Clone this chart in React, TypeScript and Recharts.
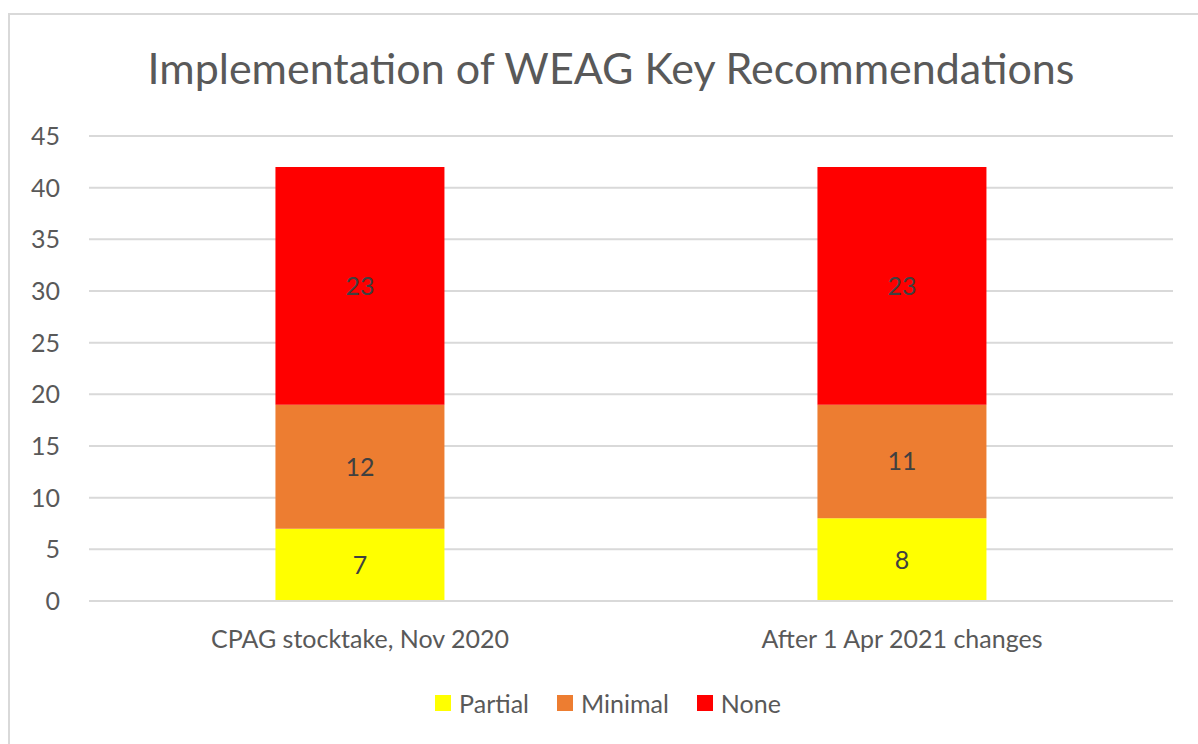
import { Bar, BarChart, CartesianGrid, LabelList, XAxis, YAxis } from "recharts"

const categories = ["CPAG stocktake, Nov 2020", "After 1 Apr 2021 changes"]
const partial = [7, 8]
const minimal = [12, 11]
const none = [23, 23]
const yTicks = [0, 5, 10, 15, 20, 25, 30, 35, 40, 45]

const series = [
  { key: "partial", name: "Partial", color: "#ffff00" },
  { key: "minimal", name: "Minimal", color: "#ed7d31" },
  { key: "none", name: "None", color: "#ff0000" },
]

const data = categories.map((name, i) => ({
  name,
  partial: partial[i],
  minimal: minimal[i],
  none: none[i],
}))

const font = "Lato, 'Open Sans', sans-serif"
const textColor = "#595959"

export default function App() {
  return (
    <div style={{ position: "absolute", left: 0, top: 0, width: 1198, height: 744, overflow: "hidden", background: "#fff", fontFamily: font }}>
      <div style={{ position: "absolute", left: 8, top: 13, width: 1220, height: 760, border: "2px solid #d9d9d9", boxSizing: "border-box" }} />
      <div style={{ position: "absolute", left: 0, top: 42, width: 1222, textAlign: "center", fontSize: 43, color: textColor }}>
        Implementation of WEAG Key Recommendations
      </div>
      <div style={{ position: "absolute", left: 0, top: 0 }}>
        <BarChart
          width={1198}
          height={744}
          data={data}
          margin={{ top: 136, right: 25, bottom: 142, left: 0 }}
          barCategoryGap="34.4%"
        >
          <CartesianGrid vertical={false} stroke="#d9d9d9" strokeWidth={2} />
          <XAxis
            dataKey="name"
            height={1}
            axisLine={{ stroke: "#d9d9d9", strokeWidth: 2 }}
            tickLine={false}
            tickMargin={23}
            tick={{ fill: textColor, fontSize: 25, fontFamily: font }}
          />
          <YAxis
            width={89}
            domain={[0, 45]}
            ticks={yTicks}
            axisLine={false}
            tickLine={false}
            tickMargin={23}
            tick={{ fill: textColor, fontSize: 25, fontFamily: font }}
          />
          {series.map((s) => (
            <Bar key={s.key} dataKey={s.key} name={s.name} stackId="a" fill={s.color} isAnimationActive={false}>
              <LabelList dataKey={s.key} position="center" fill="#404040" fontSize={25} fontFamily={font} />
            </Bar>
          ))}
        </BarChart>
      </div>
      <div style={{ position: "absolute", left: 0, top: 688, width: 1216, display: "flex", justifyContent: "center", fontSize: 25, color: textColor }}>
        {series.map((s) => (
          <div key={s.key} style={{ display: "flex", alignItems: "center", margin: "0 14px" }}>
            <span style={{ width: 16, height: 16, background: s.color, marginRight: 8, display: "inline-block" }} />
            <span>{s.name}</span>
          </div>
        ))}
      </div>
    </div>
  )
}
